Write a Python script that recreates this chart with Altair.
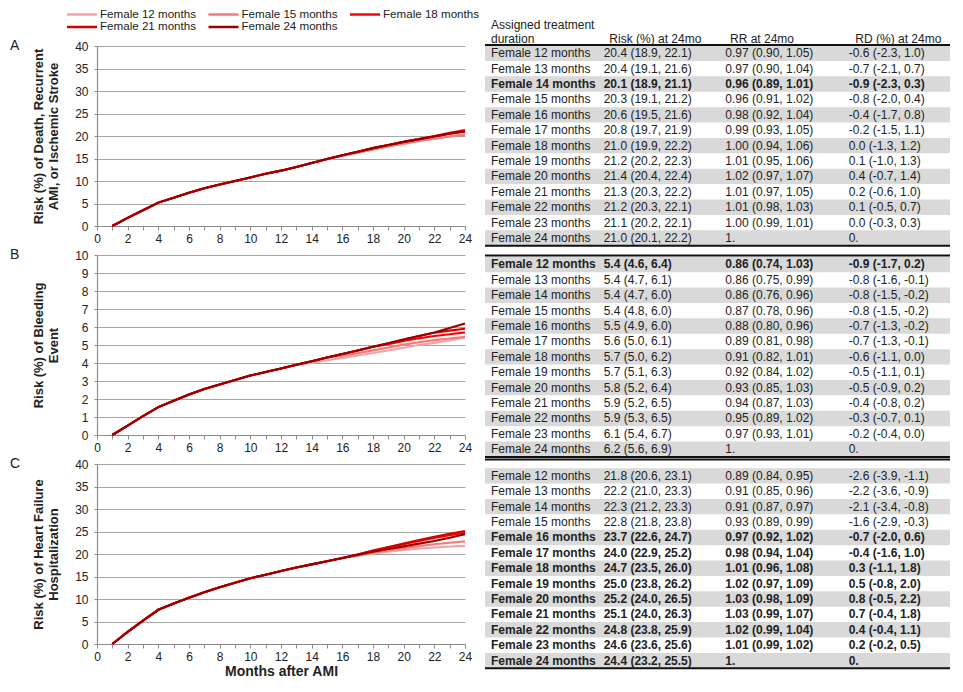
import altair as alt
import pandas as pd

FONT = "Liberation Sans"
TEXT = "#222222"

# ---------------- curve data ----------------
series = ["Female 12 months", "Female 15 months", "Female 18 months",
          "Female 21 months", "Female 24 months"]
series_colors = ["#F4A3A3", "#F07B7B", "#FF0000", "#D20000", "#990000"]
months = list(range(1, 25))

# Panel A: death, recurrent AMI or ischemic stroke (24-month curve, months 1..24)
a_base = [0.0, 1.8, 3.5, 5.2, 6.3, 7.4, 8.4, 9.2, 10.0, 10.8, 11.6, 12.3,
          13.1, 14.0, 14.9, 15.7, 16.5, 17.3, 18.0, 18.7, 19.3, 19.9, 20.5, 21.0]
a_tail_start = [13, 16, 19, 22]
a_tails = [
    [13.1, 14.0, 14.8, 15.6, 16.3, 17.0, 17.7, 18.3, 18.9, 19.4, 19.9, 20.4],
    [15.6, 16.3, 17.0, 17.7, 18.3, 18.9, 19.4, 19.9, 20.3],
    [18.0, 18.7, 19.3, 19.9, 20.5, 21.0],
    [20.0, 20.7, 21.3],
]

# Panel B: bleeding event
b_base = [0.0, 0.52, 1.05, 1.55, 1.9, 2.25, 2.55, 2.8, 3.05, 3.3, 3.5, 3.7,
          3.9, 4.1, 4.3, 4.5, 4.7, 4.9, 5.1, 5.3, 5.5, 5.7, 5.95, 6.2]
b_tail_start = [13, 16, 19, 22]
b_tails = [
    [3.88, 4.02, 4.15, 4.28, 4.42, 4.56, 4.7, 4.85, 5.0, 5.12, 5.26, 5.4],
    [4.4, 4.55, 4.7, 4.86, 5.02, 5.15, 5.27, 5.36, 5.45],
    [5.05, 5.22, 5.37, 5.5, 5.6, 5.7],
    [5.68, 5.8, 5.9],
]

# Panel C: heart failure hospitalization
c_base = [0.0, 2.7, 5.2, 7.6, 9.0, 10.3, 11.5, 12.6, 13.6, 14.6, 15.4, 16.2,
          17.0, 17.7, 18.4, 19.1, 19.8, 20.5, 21.1, 21.7, 22.3, 22.9, 23.6, 24.4]
c_tail_start = [16, 16, 17, 17]
c_tails = [
    [19.0, 19.6, 20.1, 20.5, 20.9, 21.2, 21.45, 21.65, 21.8],
    [19.1, 19.75, 20.3, 20.8, 21.3, 21.75, 22.15, 22.5, 22.8],
    [19.9, 20.7, 21.45, 22.2, 22.9, 23.55, 24.15, 24.7],
    [19.9, 20.75, 21.55, 22.35, 23.1, 23.85, 24.5, 25.1],
]

# ---------------- table data ----------------
durations = list(range(12, 25))
col_headers = ["Risk (%) at 24mo", "RR at 24mo", "RD (%) at 24mo"]
row_header = ["Assigned treatment", "duration"]

A_risk = ["20.4 (18.9, 22.1)", "20.4 (19.1, 21.6)", "20.1 (18.9, 21.1)", "20.3 (19.1, 21.2)",
          "20.6 (19.5, 21.6)", "20.8 (19.7, 21.9)", "21.0 (19.9, 22.2)", "21.2 (20.2, 22.3)",
          "21.4 (20.4, 22.4)", "21.3 (20.3, 22.2)", "21.2 (20.3, 22.1)", "21.1 (20.2, 22.1)",
          "21.0 (20.1, 22.2)"]
A_rr = ["0.97 (0.90, 1.05)", "0.97 (0.90, 1.04)", "0.96 (0.89, 1.01)", "0.96 (0.91, 1.02)",
        "0.98 (0.92, 1.04)", "0.99 (0.93, 1.05)", "1.00 (0.94, 1.06)", "1.01 (0.95, 1.06)",
        "1.02 (0.97, 1.07)", "1.01 (0.97, 1.05)", "1.01 (0.98, 1.03)", "1.00 (0.99, 1.01)", "1."]
A_rd = ["-0.6 (-2.3, 1.0)", "-0.7 (-2.1, 0.7)", "-0.9 (-2.3, 0.3)", "-0.8 (-2.0, 0.4)",
        "-0.4 (-1.7, 0.8)", "-0.2 (-1.5, 1.1)", "0.0 (-1.3, 1.2)", "0.1 (-1.0, 1.3)",
        "0.4 (-0.7, 1.4)", "0.2 (-0.6, 1.0)", "0.1 (-0.5, 0.7)", "0.0 (-0.3, 0.3)", "0."]
A_bold = [14]

B_risk = ["5.4 (4.6, 6.4)", "5.4 (4.7, 6.1)", "5.4 (4.7, 6.0)", "5.4 (4.8, 6.0)",
          "5.5 (4.9, 6.0)", "5.6 (5.0, 6.1)", "5.7 (5.0, 6.2)", "5.7 (5.1, 6.3)",
          "5.8 (5.2, 6.4)", "5.9 (5.2, 6.5)", "5.9 (5.3, 6.5)", "6.1 (5.4, 6.7)",
          "6.2 (5.6, 6.9)"]
B_rr = ["0.86 (0.74, 1.03)", "0.86 (0.75, 0.99)", "0.86 (0.76, 0.96)", "0.87 (0.78, 0.96)",
        "0.88 (0.80, 0.96)", "0.89 (0.81, 0.98)", "0.91 (0.82, 1.01)", "0.92 (0.84, 1.02)",
        "0.93 (0.85, 1.03)", "0.94 (0.87, 1.03)", "0.95 (0.89, 1.02)", "0.97 (0.93, 1.01)", "1."]
B_rd = ["-0.9 (-1.7, 0.2)", "-0.8 (-1.6, -0.1)", "-0.8 (-1.5, -0.2)", "-0.8 (-1.5, -0.2)",
        "-0.7 (-1.3, -0.2)", "-0.7 (-1.3, -0.1)", "-0.6 (-1.1, 0.0)", "-0.5 (-1.1, 0.1)",
        "-0.5 (-0.9, 0.2)", "-0.4 (-0.8, 0.2)", "-0.3 (-0.7, 0.1)", "-0.2 (-0.4, 0.0)", "0."]
B_bold = [12]

C_risk = ["21.8 (20.6, 23.1)", "22.2 (21.0, 23.3)", "22.3 (21.2, 23.3)", "22.8 (21.8, 23.8)",
          "23.7 (22.6, 24.7)", "24.0 (22.9, 25.2)", "24.7 (23.5, 26.0)", "25.0 (23.8, 26.2)",
          "25.2 (24.0, 26.5)", "25.1 (24.0, 26.3)", "24.8 (23.8, 25.9)", "24.6 (23.6, 25.6)",
          "24.4 (23.2, 25.5)"]
C_rr = ["0.89 (0.84, 0.95)", "0.91 (0.85, 0.96)", "0.91 (0.87, 0.97)", "0.93 (0.89, 0.99)",
        "0.97 (0.92, 1.02)", "0.98 (0.94, 1.04)", "1.01 (0.96, 1.08)", "1.02 (0.97, 1.09)",
        "1.03 (0.98, 1.09)", "1.03 (0.99, 1.07)", "1.02 (0.99, 1.04)", "1.01 (0.99, 1.02)", "1."]
C_rd = ["-2.6 (-3.9, -1.1)", "-2.2 (-3.6, -0.9)", "-2.1 (-3.4, -0.8)", "-1.6 (-2.9, -0.3)",
        "-0.7 (-2.0, 0.6)", "-0.4 (-1.6, 1.0)", "0.3 (-1.1, 1.8)", "0.5 (-0.8, 2.0)",
        "0.8 (-0.5, 2.2)", "0.7 (-0.4, 1.8)", "0.4 (-0.4, 1.1)", "0.2 (-0.2, 0.5)", "0."]
C_bold = list(range(16, 25))


# ---------------- build curve frames ----------------
def curve_frame(base, starts, tails):
    recs = []
    for k, name in enumerate(series):
        vals = base if k == 4 else base[:starts[k] - 1] + tails[k]
        for m, v in zip(months, vals):
            recs.append({"series": name, "month": m, "risk": v})
    return pd.DataFrame(recs)


dfA = curve_frame(a_base, a_tail_start, a_tails)
dfB = curve_frame(b_base, b_tail_start, b_tails)
dfC = curve_frame(c_base, c_tail_start, c_tails)

PW = 368
PH = 180
color_scale = alt.Scale(domain=series, range=series_colors)


def panel(df, letter, ytitle, ymax, ystep, xtitle):
    axis_kw = dict(values=list(range(0, 25)),
                   labelExpr="datum.value % 2 === 0 ? datum.label : ''",
                   grid=False, tickSize=4, labelPadding=3, labelFlush=False,
                   labelOverlap=False, labelAngle=0)
    if xtitle:
        xaxis = alt.Axis(title=xtitle, titleFontSize=14, titleFontWeight="bold",
                         titlePadding=2, titleColor=TEXT, **axis_kw)
    else:
        xaxis = alt.Axis(title=None, **axis_kw)
    yaxis = alt.Axis(values=list(range(0, ymax + 1, ystep)), title=ytitle, grid=True,
                     tickSize=3, labelPadding=6, titleFontSize=13, titleFontWeight="bold",
                     titleLineHeight=15, titlePadding=14, titleColor=TEXT)
    lines = alt.Chart(df).mark_line(strokeWidth=2.1).encode(
        x=alt.X("month:Q", scale=alt.Scale(domain=[0, 24], nice=False, zero=False), axis=xaxis),
        y=alt.Y("risk:Q", scale=alt.Scale(domain=[0, ymax], nice=False), axis=yaxis),
        color=alt.Color("series:N", scale=color_scale, sort=series, legend=None),
    )
    lab = alt.Chart(pd.DataFrame({"t": [letter]})).mark_text(
        align="left", baseline="middle", fontSize=14, font=FONT, color=TEXT
    ).encode(x=alt.value(-87), y=alt.value(0), text="t:N")
    return alt.layer(lines, lab).properties(width=PW, height=PH)


# ---------------- legend (drawn through the colour scale) ----------------
legend_df = pd.DataFrame({
    "series": series,
    "col": [i % 3 for i in range(len(series))],
    "row": [i // 3 for i in range(len(series))],
})
lx = alt.X("col:Q", scale=alt.Scale(domain=[0, 2], range=[-30, 253]), axis=None)
ly = alt.Y("row:Q", scale=alt.Scale(domain=[0, 1], range=[6.5, 19]), axis=None)
leg_col = alt.Color("series:N", scale=color_scale, sort=series, legend=None)
leg_lines = alt.Chart(legend_df).mark_rule(strokeWidth=2.5, x2Offset=30).encode(
    x=lx, x2=alt.X2("col:Q"), y=ly, color=leg_col)
leg_text = alt.Chart(legend_df).mark_text(
    align="left", baseline="middle", dx=33, fontSize=11.6, font=FONT, color=TEXT
).encode(x=lx, y=ly, text="series:N")
legend_chart = alt.layer(leg_lines, leg_text).properties(width=PW, height=9)

pA = panel(dfA, "A", ["Risk (%) of Death, Recurrent", "AMI, or Ischemic Stroke"], 40, 5, None)
pB = panel(dfB, "B", ["Risk (%) of Bleeding", "Event"], 10, 1, None)
pC = panel(dfC, "C", ["Risk (%) of Heart Failure", "Hospitalization"], 40, 5, "Months after AMI")

left = alt.vconcat(legend_chart, pA, pB, pC, spacing=29, bounds="flush")

# ---------------- table ----------------
TW = 465
NSLOT = 43
TH = 662
first_slot = [2.94, 16.66, 30.39]
sections = [(A_risk, A_rr, A_rd, A_bold), (B_risk, B_rr, B_rd, B_bold), (C_risk, C_rr, C_rd, C_bold)]

cells, bands = [], []
for s, (risk, rr, rd, bold) in enumerate(sections):
    for i, d in enumerate(durations):
        slot = first_slot[s] + i
        b = 1 if d in bold else 0
        r = risk[i] if float(risk[i].split()[0]) >= 10 else "\u2002" + risk[i]
        q = rd[i] if rd[i].startswith("-") else "\u00a0" + rd[i]
        for c, t in enumerate([f"Female {d} months", r, rr[i], q]):
            cells.append({"slot": slot, "col": c, "bold": b, "text": t})
        if i % 2 == 0:
            bands.append({"slot": slot})
cells = pd.DataFrame(cells)
bands = pd.DataFrame(bands)
rule_df = pd.DataFrame({"slot": [2.40, 15.44, 16.08, 29.16, 29.33, 42.89]})
header_df = pd.DataFrame({
    "text": row_header + col_headers,
    "slot": [1.10, 2.03, 2.03, 2.03, 2.03],
    "col": [0, 0, 1, 2, 3],
})

yscale = alt.Scale(domain=[0, NSLOT], reverse=True, nice=False, zero=False)

band_layer = alt.Chart(bands).transform_calculate(
    y0="datum.slot - 0.5", y1="datum.slot + 0.5"
).mark_rect(color="#D9D9D9").encode(
    y=alt.Y("y0:Q", scale=yscale, axis=None), y2="y1:Q",
    x=alt.value(0), x2=alt.value(TW))

rule_layer = alt.Chart(rule_df).mark_rule(strokeWidth=2, color="#111111").encode(
    y=alt.Y("slot:Q", scale=yscale, axis=None), x=alt.value(0), x2=alt.value(TW))

col_x = [6, 118.7, 240.3, 363.7]
head_x = [6, 124.3, 245, 370.3]
text_layers = []
for c in range(4):
    for b in (0, 1):
        text_layers.append(
            alt.Chart(cells).transform_filter(f"datum.col == {c} && datum.bold == {b}")
            .mark_text(align="left", baseline="middle", font=FONT, fontSize=12,
                       fontWeight="bold" if b else "normal", color=TEXT)
            .encode(y=alt.Y("slot:Q", scale=yscale, axis=None), x=alt.value(col_x[c]),
                    text="text:N"))
    text_layers.append(
        alt.Chart(header_df).transform_filter(f"datum.col == {c}")
        .mark_text(align="left", baseline="middle", font=FONT, fontSize=12, color=TEXT)
        .encode(y=alt.Y("slot:Q", scale=yscale, axis=None), x=alt.value(head_x[c]),
                text="text:N"))

table = alt.layer(band_layer, rule_layer, *text_layers).properties(width=TW, height=TH)

chart = alt.hconcat(left, table, spacing=4).properties(
    padding={"left": 2, "top": 0, "right": 0, "bottom": 0}
).configure_view(strokeWidth=0).configure_axis(
    labelFont=FONT, titleFont=FONT, labelFontSize=12, labelColor=TEXT,
    domainColor="#8C8C8C", tickColor="#8C8C8C", gridColor="#A6A6A6", gridWidth=1.2,
    domainWidth=1.2
)

chart.save("out.html", embed_options={"renderer": "svg", "actions": False})
